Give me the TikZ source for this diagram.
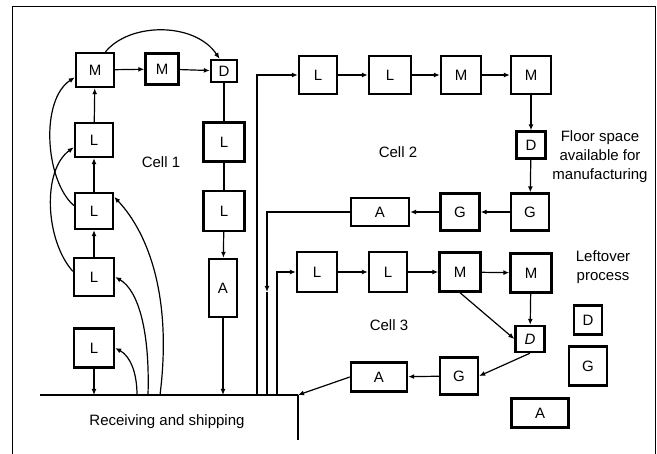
\documentclass[tikz,border=0pt]{standalone}
\usepackage{fontspec}
\setmainfont{Liberation Sans}
\usetikzlibrary{arrows.meta}

\tikzset{
  box/.style={draw, line width=2.4pt, inner sep=0pt, minimum width=38pt, minimum height=36pt},
  flow/.style={line width=1.2pt, -{Latex[length=6pt,width=5pt]}},
  wire/.style={line width=1.2pt},
}

\begin{document}
\begin{tikzpicture}[x=1pt, y=-1pt, font=\fontsize{15}{19}\selectfont]
        \useasboundingbox (0,0) rectangle (657,454);
        % Plant outline
        \draw[line width=1pt] (12,454) -- (12,7) -- (655,7) -- (655,454);

        % Receiving and shipping floor
        \coordinate (floorw) at (40,395);
        \coordinate (f298) at (298,395);
        \coordinate (dock) at (298,440);
        \draw[line width=1.6pt] (floorw) -- (f298);
        \draw[wire] (f298) -- (dock);
        \node (recv) at (167,422) {Receiving and shipping};

        % Cell 1
        \node[box, minimum height=34pt] (c1m1) at (95,70) {M};
        \node[box, minimum width=33pt, minimum height=31pt] (c1m2) at (162,69) {M};
        \node[box, minimum width=26pt, minimum height=22pt] (c1d) at (224,71) {D};
        \node[box, minimum height=34pt] (c1l1) at (94,140) {L};
        \node[box] (c1l2) at (94,211) {L};
        \node[box, minimum width=40pt, minimum height=38pt] (c1l3) at (94,277) {L};
        \node[box, minimum width=40pt, minimum height=39pt] (c1l4) at (94,348) {L};
        \node[box, minimum width=41pt, minimum height=39pt] (c1l5) at (224,142) {L};
        \node[box, minimum width=41pt, minimum height=40pt] (c1l6) at (224,211) {L};
        \node[box, minimum width=28pt, minimum height=58pt] (c1a) at (223,288) {A};
        \node (cell1) at (161,162) {Cell 1};

        \draw[flow] (c1m1) -- (c1m2);
        \draw[flow] (c1m2) -- (c1d);
        \draw[flow] (c1l1) -- (c1m1);
        \draw[flow] (c1l2) -- (c1l1);
        \draw[flow] (c1l3) -- (c1l2);
        \draw[flow] (c1l4) -- (94,395);
        \draw[wire] (c1d) -- (c1l5);
        \draw[wire] (c1l5) -- (c1l6);
        \draw[flow] (c1l6) -- (c1a);
        \draw[flow] (c1a) -- (223,395);
        \draw[flow] (c1m1.60) .. controls (130,22) and (195,22) .. (c1d.110);
        \draw[flow] (c1l2.165) .. controls (45,180) and (40,100) .. (c1m1.200);
        \draw[flow] (c1l3.165) .. controls (45,240) and (42,170) .. (c1l1.200);
        \draw[flow] (137,395) .. controls (137,372) and (130,356) .. (c1l4.east);
        \draw[flow] (148,395) .. controls (150,330) and (138,290) .. (c1l3.east);
        \draw[flow] (160,395) .. controls (172,300) and (150,235) .. (c1l2.35);

        % Cell 2
        \node[box, minimum height=38pt] (c2l1) at (318,75) {L};
        \node[box, minimum width=42pt, minimum height=38pt] (c2l2) at (390,75) {L};
        \node[box, minimum width=40pt, minimum height=38pt] (c2m1) at (461,75) {M};
        \node[box, minimum width=40pt, minimum height=38pt] (c2m2) at (531,75) {M};
        \node[box, minimum width=29pt, minimum height=27pt] (c2d) at (531,145) {D};
        \node[box, minimum height=37pt] (c2g1) at (530,212) {G};
        \node[box, minimum width=39pt, minimum height=37pt] (c2g2) at (460,212) {G};
        \node[box, minimum width=58pt, minimum height=28pt] (c2a) at (380,212) {A};
        \node (cell2) at (398,152) {Cell 2};
        \node[align=center] (floor) at (600,157) {Floor space\\available for\\manufacturing};

        \coordinate (f257) at (257,395);
        \coordinate (f267) at (267,395);
        \coordinate (m267) at (267,292);
        \draw[flow] (f257) |- (c2l1.west);
        \draw[flow] (c2l1) -- (c2l2);
        \draw[flow] (c2l2) -- (c2m1);
        \draw[flow] (c2m1) -- (c2m2);
        \draw[flow] (c2m2) -- (c2d);
        \draw[flow] (c2d) -- (c2g1);
        \draw[flow] (c2g1) -- (c2g2);
        \draw[flow] (c2g2) -- (c2a);
        \draw[flow] (c2a.west) -| (m267);
        \draw[wire] (m267) -- (f267);

        % Cell 3
        \node[box, minimum width=40pt, minimum height=40pt] (c3l1) at (317,272) {L};
        \node[box, minimum height=40pt] (c3l2) at (388,272) {L};
        \node[box, minimum width=41pt, minimum height=39pt] (c3m1) at (460,272) {M};
        \node[box, minimum width=41pt, minimum height=39pt] (c3m2) at (531,273) {M};
        \node[box, minimum width=29pt, minimum height=26pt] (c3d) at (530,339) {\itshape D};
        \node[box, minimum height=37pt] (c3g) at (459,376) {G};
        \node[box, minimum width=56pt, minimum height=29pt] (c3a) at (379,377) {A};
        \node (cell3) at (389,325) {Cell 3};

        \coordinate (f277) at (277,395);
        \draw[flow] (f277) |- (c3l1.west);
        \draw[flow] (c3l1) -- (c3l2);
        \draw[flow] (c3l2) -- (c3m1);
        \draw[flow] (c3m1) -- (c3m2);
        \draw[flow] (c3m2) -- (c3d);
        \draw[flow] (c3m1.south) -- (c3d.west);
        \draw[flow] (c3d.south) -- (c3g.east);
        \draw[flow] (c3g) -- (c3a);
        \draw[flow] (c3a.west) -- (f298);

        % Leftover process
        \node[align=center] (left) at (603,267) {Leftover\\process};
        \node[box, minimum width=28pt, minimum height=29pt] (lod) at (588,320) {D};
        \node[box, minimum width=38pt, minimum height=39pt] (log) at (588,366) {G};
        \node[box, minimum width=57pt, minimum height=29pt] (loa) at (540,413) {A};
\end{tikzpicture}
\end{document}
